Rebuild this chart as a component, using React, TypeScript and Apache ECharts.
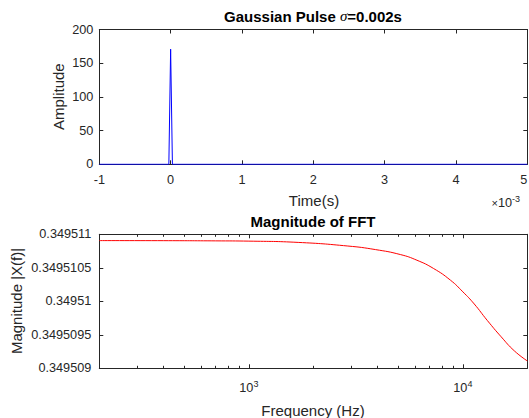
import React, { useEffect, useRef } from "react";
import * as echarts from "echarts";

// ---- data ----
const timeS = [-0.001, -0.000025, 0, 0.000025, 0.005];
const amplitude = [0, 0, 170.8, 0, 0];

const freqHz = [200, 400, 700, 1000, 1700, 2900, 3900, 5100, 6100, 7300, 8750, 10000, 11300, 13000, 15100, 17400, 20000];
const magnitude = [
  0.349510906, 0.349510905, 0.349510902, 0.349510898, 0.349510879, 0.349510825,
  0.349510772, 0.349510698, 0.349510613, 0.349510489, 0.349510315, 0.349510141,
  0.34950996, 0.349509715, 0.34950947, 0.34950926, 0.34950911,
];

const logMajorTicks = [1000, 10000];
const logMinorTicks = [300, 400, 500, 600, 700, 800, 900, 2000, 3000, 4000, 5000, 6000, 7000, 8000, 9000];

const FONT = "'Liberation Sans', Arial, Helvetica, sans-serif";
const AX = "#262626";
const TICK_FS = 12.7;
const LABEL_FS = 15;

export default function App() {
  const ref = useRef<HTMLDivElement>(null);
  useEffect(() => {
    if (!ref.current) return;
    const chart = echarts.init(ref.current, null, { renderer: "svg" });
    const axisLine = { show: true, onZero: false, lineStyle: { color: AX, width: 1 } };
    const noLine = { show: false, onZero: false };
    const majorTick = { show: true, inside: true, length: 4, lineStyle: { color: AX, width: 1 } };
    const minorTickStyle = { show: true, inside: true, length: 2.5, lineStyle: { color: AX, width: 1 } };
    const tickLabel = { color: AX, fontSize: TICK_FS, fontFamily: FONT };
    const grid0 = { left: 99.3, right: 1.7, top: 29.5, height: 134.8, containLabel: false, outerBoundsMode: "none" };
    const grid1 = { left: 99.3, right: 1.7, top: 234.3, height: 134, containLabel: false, outerBoundsMode: "none" };

    const linX = {
      type: "value" as const, gridIndex: 0, min: -0.001, max: 0.005, interval: 0.001,
      axisLine, axisTick: majorTick, splitLine: { show: false },
    };
    const logX = {
      type: "log" as const, gridIndex: 1, min: 200, max: 20000, logBase: 10,
      splitLine: { show: false }, minorTick: { show: false }, minorSplitLine: { show: false },
    };
    const yTop = {
      type: "value" as const, gridIndex: 0, min: 0, max: 200, interval: 50,
      axisLine, axisTick: majorTick, splitLine: { show: false },
    };
    const yBot = {
      type: "value" as const, gridIndex: 1, min: 0.349509, max: 0.349511, interval: 0.0000005,
      axisLine, axisTick: majorTick, splitLine: { show: false },
    };

    const option: any = {
      animation: false,
      backgroundColor: "#ffffff",
      grid: [grid0, grid1],
      xAxis: [
        {
          ...linX, position: "bottom",
          axisLabel: {
            ...tickLabel, margin: 9, alignMaxLabel: "right",
            formatter: (v: number) => String(Math.round(v * 1000)),
          },
        },
        { ...linX, position: "top", axisLabel: { show: false } },
        {
          ...logX, position: "bottom", axisLine,
          axisTick: { ...majorTick, customValues: logMajorTicks },
          axisLabel: {
            ...tickLabel, margin: 11, customValues: logMajorTicks,
            formatter: (v: number) => `{b|10}{s|${Math.round(Math.log10(v))}}`,
            rich: {
              b: { fontSize: TICK_FS, color: AX, fontFamily: FONT },
              s: { fontSize: 9, color: AX, fontFamily: FONT, verticalAlign: "bottom", padding: [0, 0, 8, 0] },
            },
          },
        },
        {
          ...logX, position: "bottom", axisLine: noLine,
          axisTick: { ...minorTickStyle, customValues: logMinorTicks },
          axisLabel: { show: false },
        },
        {
          ...logX, position: "top", axisLine,
          axisTick: { ...majorTick, customValues: logMajorTicks },
          axisLabel: { show: false },
        },
        {
          ...logX, position: "top", axisLine: noLine,
          axisTick: { ...minorTickStyle, customValues: logMinorTicks },
          axisLabel: { show: false },
        },
      ],
      yAxis: [
        { ...yTop, position: "left", axisLabel: { ...tickLabel, margin: 6 } },
        { ...yTop, position: "right", axisLabel: { show: false } },
        {
          ...yBot, position: "left",
          axisLabel: { ...tickLabel, margin: 8, formatter: (v: number) => String(Number(v.toFixed(7))) },
        },
        { ...yBot, position: "right", axisLabel: { show: false } },
      ],
      series: [
        {
          type: "line", xAxisIndex: 0, yAxisIndex: 0,
          data: timeS.map((t, i) => [t, amplitude[i]]),
          showSymbol: false, lineStyle: { color: "#0000ff", width: 1 }, itemStyle: { color: "#0000ff" },
        },
        {
          type: "line", xAxisIndex: 2, yAxisIndex: 2, smooth: true,
          data: freqHz.map((f, i) => [f, magnitude[i]]),
          showSymbol: false, lineStyle: { color: "#ff0000", width: 1 }, itemStyle: { color: "#ff0000" },
        },
      ],
      graphic: [
        {
          type: "text", x: 313, y: 16,
          style: {
            text: "{b|Gaussian Pulse }{g|σ}{b|=0.002s}",
            align: "center", verticalAlign: "middle",
            rich: {
              b: { fontSize: LABEL_FS, fontWeight: "bold", fontFamily: FONT, fill: "#000" },
              g: { fontSize: LABEL_FS, fontStyle: "italic", fontFamily: "'Liberation Serif', serif", fill: "#000" },
            },
          },
        },
        {
          type: "text", x: 58.3, y: 96.7, rotation: Math.PI / 2,
          style: { text: "Amplitude", align: "center", verticalAlign: "middle", fontSize: LABEL_FS, fontFamily: FONT, fill: AX },
        },
        {
          type: "text", x: 314, y: 200,
          style: { text: "Time(s)", align: "center", verticalAlign: "middle", fontSize: LABEL_FS, fontFamily: FONT, fill: AX },
        },
        {
          type: "text", x: 491.5, y: 203,
          style: {
            text: "{a|×}{b|10}{s|-3}", align: "left", verticalAlign: "middle",
            rich: {
              a: { fontSize: 11, fontFamily: FONT, fill: AX },
              b: { fontSize: TICK_FS, fontFamily: FONT, fill: AX },
              s: { fontSize: 9, fontFamily: FONT, fill: AX, verticalAlign: "bottom", padding: [0, 0, 8, 0] },
            },
          },
        },
        {
          type: "text", x: 313, y: 221.7,
          style: { text: "Magnitude of FFT", align: "center", verticalAlign: "middle", fontSize: LABEL_FS, fontWeight: "bold", fontFamily: FONT, fill: "#000" },
        },
        {
          type: "text", x: 16, y: 301, rotation: Math.PI / 2,
          style: { text: "Magnitude |X(f)|", align: "center", verticalAlign: "middle", fontSize: LABEL_FS, fontFamily: FONT, fill: AX },
        },
        {
          type: "text", x: 313, y: 410,
          style: { text: "Frequency (Hz)", align: "center", verticalAlign: "middle", fontSize: LABEL_FS, fontFamily: FONT, fill: AX },
        },
      ],
    };
    chart.setOption(option);
    return () => chart.dispose();
  }, []);
  return (
    <div
      ref={ref}
      style={{ position: "fixed", left: 0, top: 0, width: 529, height: 418, background: "#fff" }}
    />
  );
}
